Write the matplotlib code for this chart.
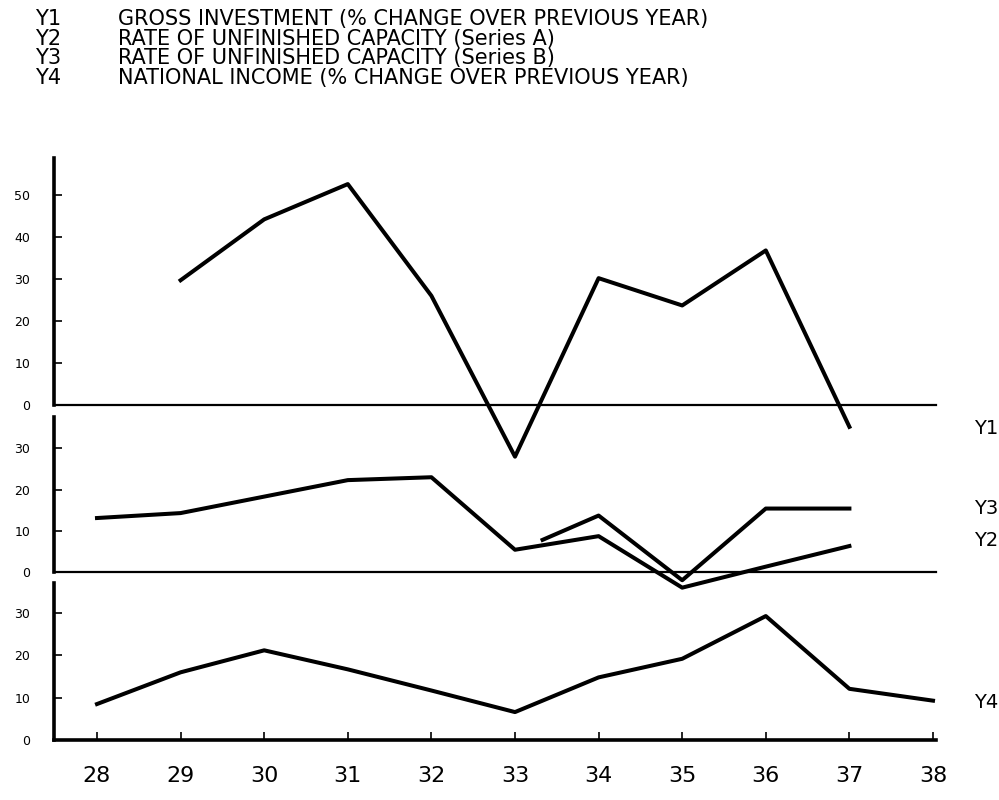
import numpy as np
import matplotlib
matplotlib.use('Agg')
import matplotlib.pyplot as plt

# years on the x axis
years = [28, 29, 30, 31, 32, 33, 34, 35, 36, 37, 38]

# Y1 gross investment, % change (1929-1937)
y1_years = [29, 30, 31, 32, 33, 34, 35, 36, 37]
y1_vals = [29.7, 44.2, 52.6, 26.0, -12.3, 30.2, 23.7, 36.8, -5.2]

# Y2 unfinished capacity, series A (1928-1937)
y2_years = [28, 29, 30, 31, 32, 33, 34, 35, 36, 37]
y2_vals = [13.1, 14.3, 18.3, 22.3, 23.0, 5.4, 8.7, -3.8, 1.3, 6.3]

# Y3 unfinished capacity, series B (starts part way through 1933)
y3_years = [33.33, 34, 35, 36, 37]
y3_vals = [7.8, 13.7, -2.0, 15.4, 15.4]

# Y4 national income, % change (1928-1938)
y4_years = [28, 29, 30, 31, 32, 33, 34, 35, 36, 37, 38]
y4_vals = [8.5, 16.0, 21.2, 16.7, 11.7, 6.6, 14.8, 19.2, 29.3, 12.1, 9.3]

header_codes = ['Y1', 'Y2', 'Y3', 'Y4']
header_texts = ['GROSS INVESTMENT (% CHANGE OVER PREVIOUS YEAR)',
                'RATE OF UNFINISHED CAPACITY (Series A)',
                'RATE OF UNFINISHED CAPACITY (Series B)',
                'NATIONAL INCOME (% CHANGE OVER PREVIOUS YEAR)']

W, H = 999, 800
FONT = 'DejaVu Sans'

def rect(x0, y0, x1, y1):
    # pixel box (top-left origin) -> figure fraction
    return [x0 / W, 1 - y1 / H, (x1 - x0) / W, (y1 - y0) / H]

fig = plt.figure(figsize=(W / 100, H / 100), dpi=100)

xl = (28 - (97 - 54) / 83.6, 28 + (936 - 97) / 83.6)

ax1 = fig.add_axes(rect(54, 158, 936, 405))
ax2 = fig.add_axes(rect(54, 417, 936, 572))
ax3 = fig.add_axes(rect(54, 583, 936, 740))

ax1.set_ylim(0, (405 - 158) / 4.2)
ax2.set_ylim(0, (572 - 417) / 4.12)
ax3.set_ylim(0, (740 - 583) / 4.23)

for ax, top in [(ax1, 50), (ax2, 30), (ax3, 30)]:
    ax.set_xlim(*xl)
    ax.set_facecolor('none')
    ax.spines['top'].set_visible(False)
    ax.spines['right'].set_visible(False)
    ax.spines['left'].set_linewidth(2.6)
    ax.spines['bottom'].set_linewidth(1.6)
    ax.set_yticks(np.arange(0, top + 1, 10))
    ax.tick_params(axis='y', direction='in', length=6, width=1.2,
                   labelsize=9, pad=17)
    for lab in ax.get_yticklabels():
        lab.set_fontfamily(FONT)
    ax.set_xticks([])

ax3.spines['bottom'].set_linewidth(2.6)
ax3.set_xticks(years)
ax3.set_xticklabels([str(y) for y in years], fontsize=16, family=FONT)
ax3.tick_params(axis='x', direction='in', length=6, width=1.2, pad=19)

lw = 2.9
ax1.plot(y1_years, y1_vals, color='black', lw=lw, clip_on=False)
ax2.plot(y2_years, y2_vals, color='black', lw=lw, clip_on=False)
ax2.plot(y3_years, y3_vals, color='black', lw=lw, clip_on=False)
ax3.plot(y4_years, y4_vals, color='black', lw=lw, clip_on=False)

# series names at the right
for name, ypx in [('Y1', 428), ('Y3', 508), ('Y2', 540), ('Y4', 703)]:
    fig.text(974 / W, 1 - ypx / H, name, fontsize=14, family=FONT,
             va='center', ha='left')

# header block
for i, (code, txt) in enumerate(zip(header_codes, header_texts)):
    y = 1 - (19 + 19.6 * i) / H
    fig.text(35 / W, y, code, fontsize=15, family=FONT, va='center')
    fig.text(118 / W, y, txt, fontsize=15, family=FONT, va='center')

fig.savefig('out.png', dpi=100)
